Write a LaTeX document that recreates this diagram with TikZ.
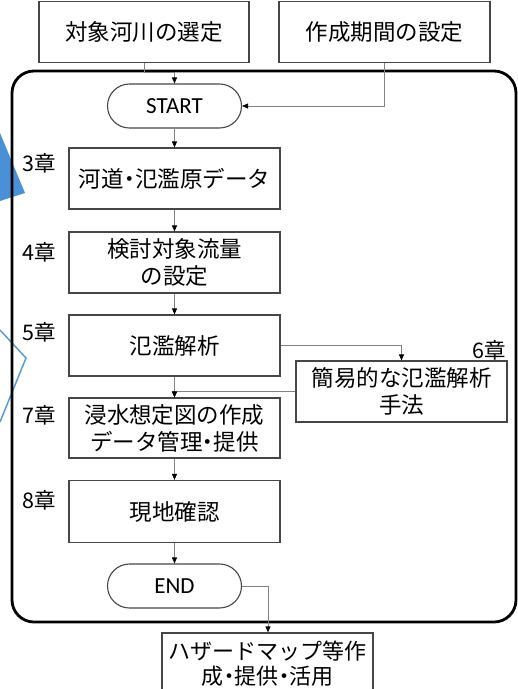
\documentclass[tikz,border=0pt]{standalone}
\usepackage{fontspec}
\newfontfamily\jp{Noto Sans CJK JP}
\newfontfamily\lat{Carlito}
\usetikzlibrary{arrows.meta,shapes.misc,calc}
\definecolor{bluefill}{RGB}{74,144,214}
\definecolor{blueline}{RGB}{91,155,213}
\definecolor{boxline}{RGB}{70,70,70}
\definecolor{connline}{RGB}{130,130,130}
\newcommand{\nd}{\makebox[0.5em]{・}}
\tikzset{
  box/.style={draw=boxline, line width=1.2pt, fill=white, rectangle, inner sep=0pt,
    align=center, font=\jp\fontsize{22.5}{27}\selectfont},
  term/.style={draw=boxline, line width=1.1pt, fill=white, rounded rectangle, inner sep=0pt,
    minimum width=134pt, minimum height=44pt, font=\lat\fontsize{23}{26}\selectfont},
  chap/.style={inner sep=0pt, font=\jp\fontsize{21.5}{24}\selectfont},
  conn/.style={draw=connline, line width=0.9pt, -{Triangle[length=6pt,width=5pt,color=black]}},
  frame/.style={draw=black, line width=2.8pt, rounded corners=22pt}
}
\begin{document}
\begin{tikzpicture}[x=1pt,y=-1pt]
\useasboundingbox (0,0) rectangle (518,689);
\clip (0,0) rectangle (518,689);

% blue callout fragments at the left edge
\fill[bluefill] (0,133) -- (25,193) -- (0,201) -- cycle;
\draw[blueline, line width=1.5pt] (0,330) -- (26,358) -- (0,422);

% big frame
\draw[frame] (12,71) rectangle (516,622);

% top boxes
\node[box, minimum width=210pt, minimum height=61pt] (sel) at (144,32) {対象河川の選定};
\node[box, minimum width=211pt, minimum height=61pt] (per) at (384.5,32) {作成期間の設定};

% terminals
\node[term] (start) at (174.5,106) {START};
\node[term] (end) at (174.5,586) {END};

% main steps
\node[box, minimum width=211pt, minimum height=61pt] (d3) at (174.5,178.5) {河道\nd 氾濫原データ};
\node[box, minimum width=211pt, minimum height=61pt] (d4) at (174.5,262.5) {検討対象流量\\の設定};
\node[box, minimum width=211pt, minimum height=61pt] (d5) at (174.5,345.5) {氾濫解析};
\node[box, minimum width=211pt, minimum height=61pt] (d6) at (401.5,391.5) {簡易的な氾濫解析\\手法};
\node[box, minimum width=211pt, minimum height=60pt] (d7) at (174.5,428) {浸水想定図の作成\\データ管理\nd 提供};
\node[box, minimum width=211pt, minimum height=62pt] (d8) at (174.5,511.5) {現地確認};
\node[box, minimum width=211pt, minimum height=62pt, font=\jp\fontsize{22}{25}\selectfont] (haz) at (267.5,664) {ハザードマップ等作\\成\nd 提供\nd 活用};

% chapter labels
\node[chap, anchor=west] (c3l) at (22,163) {3章};
\node[chap, anchor=west] (c4l) at (22,252) {4章};
\node[chap, anchor=west] (c5l) at (22,332) {5章};
\node[chap, anchor=east] (c6l) at (506,350) {6章};
\node[chap, anchor=west] (c7l) at (22,415) {7章};
\node[chap, anchor=west] (c8l) at (22,500) {8章};

% connectors
\coordinate (k1) at (144,72);
\coordinate (k3) at (268,0);
\draw[conn] (sel.south) -- (k1) -| (start.north);
\draw[conn] (per.south) |- (start.east);
\draw[conn] (start.south) -- (d3.north);
\draw[conn] (d3.south) -- (d4.north);
\draw[conn] (d4.south) -- (d5.north);
\draw[conn] (d5.south) -- (d7.north);
\draw[conn] (d5.east) -| (d6.north);
\draw[conn] (d6.west) -| (d7.north);
\draw[conn] (d7.south) -- (d8.north);
\draw[conn] (d8.south) -- (end.north);
\draw[conn] (end.east) -| (k3 |- haz.north);
\end{tikzpicture}
\end{document}
